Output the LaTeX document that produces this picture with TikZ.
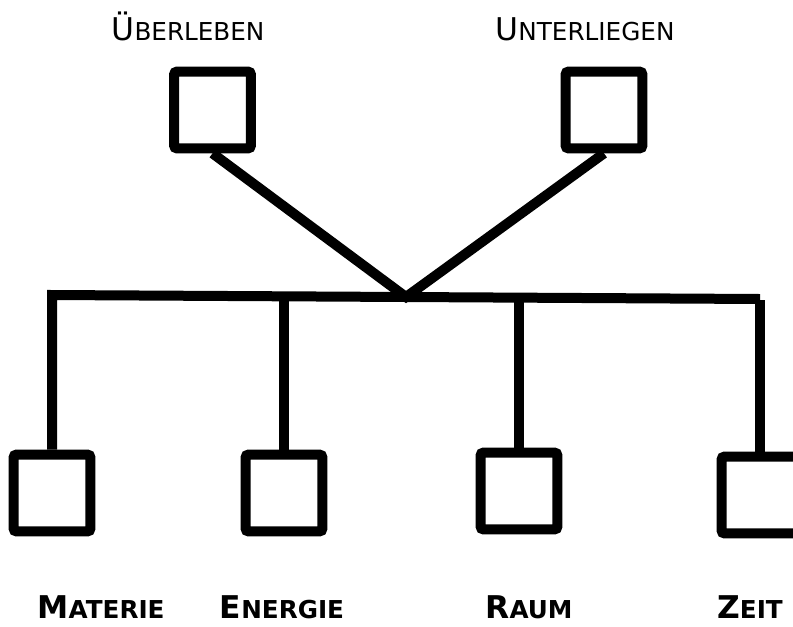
\documentclass[tikz,border=0pt]{standalone}
\usepackage{fontspec}
\setmainfont{DejaVu Sans}
\usetikzlibrary{positioning}
% big first letter, the rest as small capitals
\newcommand\kap[2]{{\fontsize{23.5}{28}\selectfont #1}{\fontsize{18.5}{22}\selectfont #2}}
\tikzset{%
  box/.style={draw, line width=7.5pt, rounded corners=2pt,
    minimum size=57.5pt, inner sep=0pt},
  link/.style={line width=7.5pt, line join=miter},
  toplabel/.style={anchor=base, inner sep=0pt},
  botlabel/.style={anchor=base, inner sep=0pt, font=\bfseries}
}

\begin{document}
\begin{tikzpicture}[x=0.75pt,y=-0.75pt]
\useasboundingbox (0,0) rectangle (793,626);

%% the two outcomes
\node[box] (ueber) at (212.5,110) {};
\node[box] (unter) at (604,110) {};
\node[toplabel] (lueber) at (188,40) {\kap{Ü}{BERLEBEN}};
\node[toplabel] (lunter) at (585,40) {\kap{U}{NTERLIEGEN}};

%% the bar they meet on
\coordinate (J) at (406,297);
\coordinate (barL) at (52,295);
\coordinate (barR) at (760,299);

%% the four basics
\node[box] (materie) at (52,493) {};
\node[box] (energie) at (284,493) {};
\node[box] (raum) at (519,491) {};
\node[box] (zeit) at (760,495) {};
\node[botlabel] (lmaterie) at (101,618) {\kap{M}{ATERIE}};
\node[botlabel] (lenergie) at (282,618) {\kap{E}{NERGIE}};
\node[botlabel] (lraum) at (529,618) {\kap{R}{AUM}};
\node[botlabel] (lzeit) at (750,618) {\kap{Z}{EIT}};

\draw[link] (ueber.south) -- (J) -- (unter.south);
\draw[link] (materie.north) -- (barL) -- (barR);
\draw[link] (energie.north) -- (energie.north |- J);
\draw[link] (raum.north) -- (raum.north |- J);
\draw[link] (zeit.north) -- ([yshift=-1pt]zeit.north |- barR);

\end{tikzpicture}
\end{document}
